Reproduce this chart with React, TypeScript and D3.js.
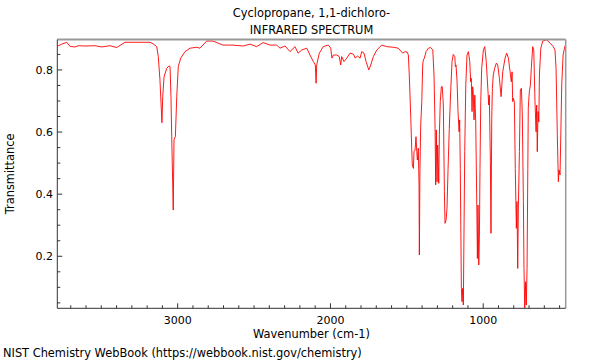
import React from "react";
import * as d3 from "d3";

const title1 = "Cyclopropane, 1,1-dichloro-";
const title2 = "INFRARED SPECTRUM";
const xLabel = "Wavenumber (cm-1)";
const yLabel = "Transmittance";
const footer = "NIST Chemistry WebBook (https://webbook.nist.gov/chemistry)";

const xMajorTicks = [3000, 2000, 1000];
const yMajorTicks = [0.2, 0.4, 0.6, 0.8];

const wavenumber = [
  3785, 3759, 3726, 3705, 3672, 3650, 3607, 3541, 3497, 3443, 3399, 3345, 3181, 3161, 3137, 3127, 3116, 3109, 3103, 3098,
  3089, 3072, 3057, 3050, 3044, 3039, 3029, 3024, 3015, 3006, 2996, 2980, 2952, 2919, 2875, 2854, 2810, 2769, 2703, 2638,
  2572, 2526, 2483, 2441, 2395, 2352, 2330, 2297, 2265, 2232, 2212, 2188, 2155, 2134, 2112, 2099, 2094, 2090, 2073, 2047,
  2014, 1998, 1990, 1981, 1959, 1942, 1933, 1926, 1911, 1893, 1872, 1850, 1837, 1824, 1806, 1795, 1780, 1767, 1749, 1736,
  1719, 1697, 1664, 1632, 1588, 1556, 1527, 1512, 1497, 1490, 1484, 1474, 1468, 1464, 1457, 1453, 1446, 1440, 1435, 1431,
  1425, 1420, 1418, 1414, 1409, 1402, 1396, 1392, 1385, 1374, 1359, 1344, 1330, 1322, 1315, 1311, 1307, 1302, 1298, 1291,
  1287, 1281, 1274, 1268, 1261, 1254, 1250, 1243, 1237, 1230, 1222, 1213, 1204, 1196, 1186, 1182, 1178, 1171, 1165, 1158,
  1154, 1150, 1143, 1139, 1134, 1130, 1126, 1121, 1114, 1106, 1097, 1088, 1082, 1078, 1073, 1069, 1065, 1060, 1055, 1049,
  1042, 1038, 1034, 1029, 1025, 1021, 1016, 1010, 999, 990, 980, 968, 964, 960, 953, 949, 944, 940, 934, 925,
  914, 905, 894, 883, 872, 857, 846, 835, 824, 816, 811, 807, 803, 796, 790, 783, 779, 774, 770, 763,
  757, 750, 744, 737, 733, 728, 722, 718, 713, 708, 705, 698, 691, 685, 676, 669, 661, 654, 650, 646,
  641, 636, 632, 623, 610, 584, 562, 541, 530, 523, 515, 508, 504, 497, 492, 486, 477, 466, 461,
];

const transmittance = [
  0.877, 0.883, 0.889, 0.876, 0.874, 0.878, 0.877, 0.878, 0.874, 0.878, 0.872, 0.889, 0.889, 0.884, 0.875, 0.843, 0.768, 0.694, 0.63, 0.714,
  0.778, 0.805, 0.813, 0.811, 0.714, 0.585, 0.349, 0.575, 0.585, 0.714, 0.811, 0.838, 0.859, 0.87, 0.873, 0.87, 0.893, 0.893, 0.88, 0.88,
  0.877, 0.883, 0.875, 0.888, 0.88, 0.88, 0.87, 0.877, 0.859, 0.875, 0.854, 0.864, 0.87, 0.848, 0.827, 0.816, 0.757, 0.816, 0.854, 0.875,
  0.88, 0.87, 0.838, 0.848, 0.848, 0.843, 0.816, 0.843, 0.827, 0.838, 0.854, 0.851, 0.838, 0.845, 0.838, 0.859, 0.854, 0.827, 0.8, 0.816,
  0.843, 0.864, 0.88, 0.875, 0.873, 0.87, 0.854, 0.859, 0.857, 0.848, 0.784, 0.644, 0.548, 0.494, 0.483, 0.537, 0.542, 0.585, 0.537, 0.51,
  0.548, 0.43, 0.204, 0.483, 0.623, 0.698, 0.816, 0.832, 0.838, 0.859, 0.87, 0.872, 0.864, 0.784, 0.612, 0.43, 0.607, 0.44, 0.558, 0.435,
  0.591, 0.698, 0.746, 0.746, 0.687, 0.408, 0.306, 0.317, 0.355, 0.483, 0.612, 0.73, 0.827, 0.85, 0.843, 0.811, 0.816, 0.762, 0.666, 0.601,
  0.639, 0.483, 0.097, 0.054, 0.097, 0.043, 0.268, 0.537, 0.752, 0.848, 0.859, 0.827, 0.762, 0.773, 0.666, 0.746, 0.725, 0.639, 0.719, 0.633,
  0.365, 0.193, 0.365, 0.172, 0.258, 0.483, 0.698, 0.805, 0.864, 0.875, 0.827, 0.725, 0.687, 0.719, 0.505, 0.274, 0.644, 0.741, 0.784, 0.805,
  0.822, 0.816, 0.773, 0.714, 0.794, 0.838, 0.854, 0.838, 0.794, 0.762, 0.794, 0.698, 0.709, 0.698, 0.483, 0.29, 0.376, 0.161, 0.355, 0.537,
  0.736, 0.741, 0.655, 0.376, 0.161, 0.033, 0.118, 0.043, 0.161, 0.483, 0.677, 0.73, 0.752, 0.805, 0.875, 0.864, 0.698, 0.601, 0.687, 0.537,
  0.666, 0.633, 0.784, 0.87, 0.893, 0.897, 0.886, 0.875, 0.864, 0.805, 0.591, 0.44, 0.478, 0.462, 0.591, 0.752, 0.848, 0.875, 0.88,
];

const W = 600;
const H = 360;
const left = 57.3;
const right = 565.7;
const top = 39.5;
const bottom = 308.3;

export default function App() {
  const x = d3.scaleLinear().domain([3788, 460]).range([left, right]);
  const y = d3.scaleLinear().domain([0.0325, 0.898]).range([bottom, top]);

  const pts: [number, number][] = wavenumber.map((w, i) => [w, transmittance[i]]);
  const line = d3
    .line<[number, number]>()
    .x((d) => x(d[0]))
    .y((d) => y(d[1]));

  const xMinor = d3.range(500, 3800, 100).filter((v) => !xMajorTicks.includes(v));
  const yMinor = d3.range(0.05, 0.9, 0.05).map((v) => +v.toFixed(2)).filter((v) => !yMajorTicks.includes(v));

  const font = "DejaVu Sans, sans-serif";
  const cx = (left + right) / 2;
  const fs = 11.4;

  return (
    <div style={{ position: "absolute", left: 0, top: 0 }}>
      <svg width={W} height={H} viewBox={`0 0 ${W} ${H}`} style={{ display: "block", background: "#fff" }}>
        <defs>
          <clipPath id="plotclip">
            <rect x={left} y={top} width={right - left} height={bottom - top} />
          </clipPath>
        </defs>
        <text x={cx} y={17} textAnchor="middle" fontFamily={font} fontSize={fs} fill="#000">
          {title1}
        </text>
        <text x={cx} y={34} textAnchor="middle" fontFamily={font} fontSize={fs} fill="#000">
          {title2}
        </text>

        <path d={line(pts) || ""} fill="none" stroke="#ff0000" strokeWidth={0.9} clipPath="url(#plotclip)" />

        {/* frame */}
        <line x1={left} x2={right} y1={top} y2={top} stroke="#999" strokeWidth={2} />
        <line x1={right} x2={right} y1={top} y2={bottom} stroke="#999" strokeWidth={1.5} />
        <line x1={left} x2={left} y1={top} y2={bottom} stroke="#333" strokeWidth={1} />
        <line x1={left} x2={right} y1={bottom} y2={bottom} stroke="#333" strokeWidth={1} />

        {xMinor.map((v) => (
          <line key={"xm" + v} x1={x(v)} x2={x(v)} y1={bottom} y2={bottom - 3} stroke="#333" strokeWidth={1} />
        ))}
        {xMajorTicks.map((v) => (
          <g key={"xM" + v}>
            <line x1={x(v)} x2={x(v)} y1={bottom} y2={bottom - 5} stroke="#333" strokeWidth={1} />
            <text x={x(v)} y={324} textAnchor="middle" fontFamily={font} fontSize={11} fill="#000">
              {String(v)}
            </text>
          </g>
        ))}
        {yMinor.map((v) => (
          <line key={"ym" + v} x1={left} x2={left + 3} y1={y(v)} y2={y(v)} stroke="#333" strokeWidth={1} />
        ))}
        {yMajorTicks.map((v) => (
          <g key={"yM" + v}>
            <line x1={left} x2={left + 5} y1={y(v)} y2={y(v)} stroke="#333" strokeWidth={1} />
            <text x={53} y={y(v) + 4} textAnchor="end" fontFamily={font} fontSize={11} fill="#000">
              {v.toFixed(1)}
            </text>
          </g>
        ))}

        <text x={cx} y={338} textAnchor="middle" fontFamily={font} fontSize={fs} fill="#000">
          {xLabel}
        </text>
        <text
          transform={`translate(14, ${(top + bottom) / 2}) rotate(-90)`}
          textAnchor="middle"
          fontFamily={font}
          fontSize={fs}
          fill="#000"
        >
          {yLabel}
        </text>
        <text x={3} y={357} fontFamily={font} fontSize={fs} fill="#000">
          {footer}
        </text>
      </svg>
    </div>
  );
}
